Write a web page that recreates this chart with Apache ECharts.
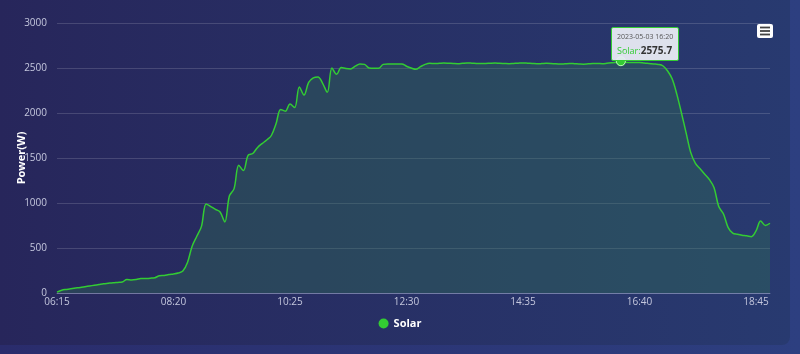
<!DOCTYPE html>
<html>
<head>
<meta charset="utf-8">
<script src="https://cdn.jsdelivr.net/npm/echarts@6/dist/echarts.min.js"></script>
<style>
html, body { margin: 0; padding: 0; width: 800px; height: 354px; overflow: hidden;
  background: linear-gradient(90deg, #2a2c6c, #2d3f80); }
.card { position: absolute; left: 0; top: 0; width: 790px; height: 345px;
  border-radius: 0 0 8px 0; background: linear-gradient(90deg, #27265b, #283a70); }
#chart { position: absolute; left: 0; top: 0; width: 800px; height: 354px; }
</style>
</head>
<body>
<div class="card"></div>
<div id="chart"></div>
<script>
// 5 minute samples, 06:15 .. 19:00
const categories = [];
for (let m = 6 * 60 + 15; m <= 19 * 60; m += 5) {
    categories.push(String(Math.floor(m / 60)).padStart(2, '0') + ':' + String(m % 60).padStart(2, '0'));
}
const day = '2023-05-03';
const seriesName = 'Solar';
const solar = [
    10, 30, 40, 48, 55, 62, 70, 78, 86, 94, 102, 108, 114, 118, 122, 150, 145, 150, 160, 162,
    165, 170, 192, 195, 205, 212, 222, 245, 340, 520, 630,
    740, 990, 960, 930, 900, 790, 1080, 1160, 1420, 1360, 1530, 1550, 1615, 1660, 1700, 1750, 1880, 2040, 2020,
    2100, 2060, 2290, 2200, 2340, 2390, 2400, 2330, 2230, 2500, 2430,
    2505, 2495, 2490, 2520, 2545, 2540, 2500, 2497, 2497, 2540, 2545, 2545, 2545, 2545, 2520, 2500, 2485, 2515, 2540, 2552,
    2550, 2552, 2555, 2553, 2550, 2548, 2552, 2556, 2554, 2551, 2549, 2550, 2553, 2555, 2552, 2550, 2548, 2551, 2554, 2556,
    2553, 2550, 2547, 2549, 2552, 2550, 2546, 2544, 2547, 2550, 2548, 2545, 2543, 2546, 2549, 2551, 2548, 2552, 2558, 2565,
    2575.7,
    2565, 2560, 2560, 2562, 2555, 2550, 2545, 2540, 2525, 2470, 2380, 2210, 2000, 1780, 1560, 1440, 1380, 1320, 1260, 1170,
    960, 880, 730, 665, 652, 642, 636, 626, 690, 800, 750, 775
];
const tipIndex = 121;

const myChart = echarts.init(document.getElementById('chart'));

const option = {
    animation: false,
    grid: { left: 57, right: 30, top: 23, bottom: 61, outerBoundsMode: 'none' },
    tooltip: {
        trigger: 'axis',
        alwaysShowContent: true,
        axisPointer: { type: 'none' },
        backgroundColor: 'rgba(232,235,244,0.95)',
        borderColor: '#33cc33',
        borderWidth: 1,
        borderRadius: 2,
        padding: [3, 5],
        extraCssText: 'box-shadow: none;',
        position: function () {
            return [611, 27];
        },
        formatter: function (params) {
            const p = params[0];
            return '<div style="font-size:7px;color:#555;line-height:11px;font-family:\'Open Sans\',sans-serif">' + day + ' ' + p.name + '</div>' +
                '<div style="line-height:13px;font-family:\'Open Sans\',sans-serif"><span style="font-size:9px;color:#33cc33">' + p.seriesName + ':</span>' +
                '<span style="font-size:10px;font-weight:bold;color:#333">' + p.value + '</span></div>';
        }
    },
    legend: {
        top: 313,
        left: 'center',
        icon: 'circle',
        itemWidth: 10,
        itemHeight: 10,
        textStyle: { color: '#fff', fontWeight: 'bold', fontSize: 11, fontFamily: 'Open Sans' },
        data: [seriesName]
    },
    xAxis: {
        type: 'category',
        boundaryGap: false,
        data: categories,
        axisLine: { lineStyle: { color: 'rgba(170,180,215,0.45)', width: 1 } },
        axisTick: { show: false },
        axisLabel: { interval: 24, color: '#c4c7dd', fontSize: 10, margin: 4, fontFamily: 'Open Sans' },
        splitLine: { show: false }
    },
    yAxis: {
        type: 'value',
        min: 0,
        max: 3000,
        interval: 500,
        name: 'Power(W)',
        nameLocation: 'middle',
        nameGap: 30,
        nameMoveOverlap: false,
        nameTextStyle: { color: '#fff', fontWeight: 'bold', fontSize: 11, fontFamily: 'Open Sans' },
        axisLine: { show: false },
        axisTick: { show: false },
        axisLabel: { color: '#c4c7dd', fontSize: 10, margin: 10, fontFamily: 'Open Sans',
            formatter: function (v) { return String(v); } },
        splitLine: { lineStyle: { color: 'rgba(255,255,255,0.15)', width: 1 } }
    },
    series: [
        {
            name: seriesName,
            type: 'line',
            data: solar,
            smooth: 0.35,
            showSymbol: false,
            symbol: 'circle',
            symbolSize: 9,
            itemStyle: { color: '#33cc33' },
            lineStyle: { color: '#33cc33', width: 1.5 },
            areaStyle: { color: 'rgba(49,115,82,0.5)' },
            emphasis: { disabled: true },
            markPoint: {
                symbol: 'circle',
                symbolSize: 9,
                itemStyle: { color: '#33cc33', borderColor: 'rgba(220,255,220,0.8)', borderWidth: 1 },
                label: { show: false },
                data: [{ coord: [categories[tipIndex], solar[tipIndex]] }]
            }
        }
    ],
    graphic: [
        {
            type: 'group',
            left: 757,
            top: 24,
            children: [
                { type: 'rect', shape: { x: 0, y: 0, width: 16, height: 14, r: 2 }, style: { fill: '#ffffff' } },
                { type: 'line', shape: { x1: 3, y1: 3.5, x2: 13, y2: 3.5 }, style: { stroke: '#444', lineWidth: 1.8 } },
                { type: 'line', shape: { x1: 3, y1: 7, x2: 13, y2: 7 }, style: { stroke: '#444', lineWidth: 1.8 } },
                { type: 'line', shape: { x1: 3, y1: 10.5, x2: 13, y2: 10.5 }, style: { stroke: '#444', lineWidth: 1.8 } }
            ]
        }
    ]
};

myChart.setOption(option);
myChart.dispatchAction({ type: 'showTip', seriesIndex: 0, dataIndex: tipIndex });
</script>
</body>
</html>
